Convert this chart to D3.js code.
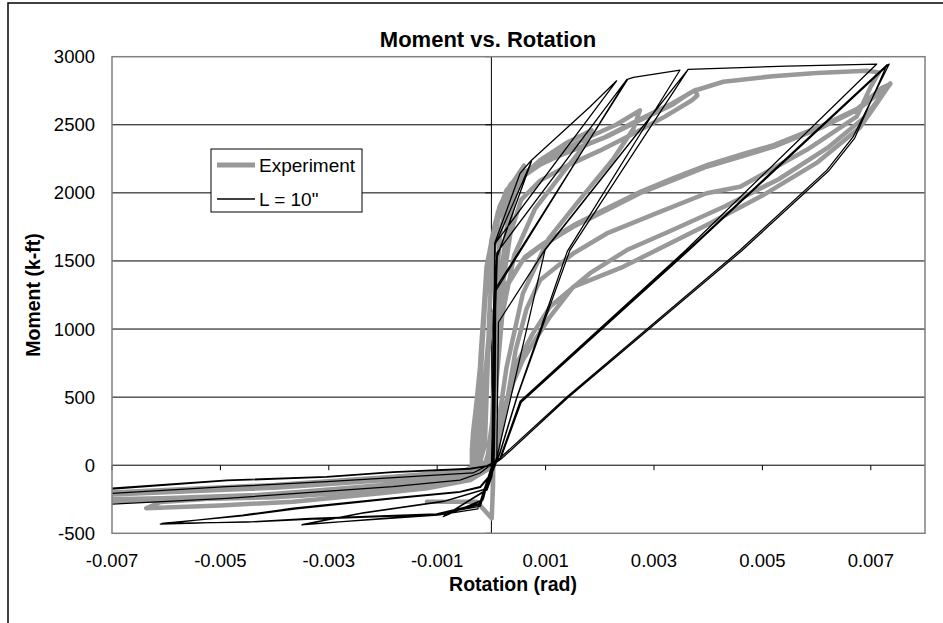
<!DOCTYPE html>
<html>
<head>
<meta charset="utf-8">
<script src="https://cdn.jsdelivr.net/npm/d3@7"></script>
<style>
  body { margin: 0; background: #fff; }
  svg { display: block; }
  text { font-family: "Liberation Sans", Arial, sans-serif; fill: #000; }
</style>
</head>
<body>
<svg id="chart" width="943" height="623"></svg>
<script>
// Axis ticks
const xTicks = [-0.007, -0.005, -0.003, -0.001, 0.001, 0.003, 0.005, 0.007];
const yTicks = [-500, 0, 500, 1000, 1500, 2000, 2500, 3000];
const seriesNames = ["Experiment", "L = 10\""];

// Experiment: rotation (rad) and moment (k-ft), in test order
const expRot = [
  -0.00119, -0.00027, 0.000006, 0.00003, 0.00004,
  0.00005, 0.00009, 0.00016, 0.00030, 0.00042,
  0.00030, 0.00015, 0.00006, 0.0, -0.00010, -0.00035, -0.00070,
  -0.00045, -0.00025, -0.00012, -0.00008, -0.00004, 0.00002, 0.00012, 0.00030, 0.00055,
  0.00042, 0.00025, 0.00012, 0.00004, -0.00008, -0.00040, -0.00090,
  -0.00060, -0.00036, -0.00036, -0.00034, -0.00027, -0.00021, -0.00015, -0.00009, -0.00003, 0.00007, 0.00025, 0.00060,
  0.00045, 0.00028, 0.00014, 0.00005, -0.00002, -0.00030, -0.00100, -0.00160,
  -0.00120, -0.00060, -0.00030,
  -0.00025, -0.00018, -0.00010, 0.0, 0.00015, 0.00035, 0.00050, 0.00038, 0.00022, 0.00010, 0.00002, -0.00015, -0.00050,
  -0.00030,
  -0.00026, -0.00020, -0.00012, -0.00002, 0.00012, 0.00040, 0.00090, 0.00140, 0.00185,
  0.00170, 0.00130, 0.00080, 0.00042, 0.00020, 0.00009, 0.00002, -0.00010, -0.00060, -0.00150, -0.00220,
  -0.00160, -0.00070, -0.00030,
  -0.00024, -0.00016, -0.00006, 0.00006, 0.00020, 0.00058, 0.00120, 0.00180, 0.00230, 0.00274,
  0.00262, 0.00225, 0.00165, 0.00105, 0.00058, 0.00028, 0.00011, 0.0, -0.00050, -0.00180, -0.00350,
  -0.00260, -0.00120, -0.00040, -0.00025,
  -0.00020, -0.00010, 0.00004, 0.00016, 0.00028, 0.00058, 0.00090, 0.00151, 0.00213, 0.00274, 0.00335, 0.00365, 0.00376, 0.00380, 0.00370,
  0.00320, 0.00260, 0.00200, 0.00140, 0.00090, 0.00055, 0.00035, 0.00020, 0.00010, 0.00003, -0.00010,
  -0.00039, -0.00119, -0.00200, -0.00366, -0.00500, -0.00637,
  -0.00610, -0.00500, -0.00350, -0.00200, -0.00100, -0.00045, -0.00025,
  -0.00022, -0.00012, 0.00002, 0.00014, 0.00035, 0.00070, 0.00140, 0.00210, 0.00274, 0.00335, 0.00374, 0.00428, 0.00519, 0.00600, 0.00692, 0.00715,
  0.00700, 0.00674, 0.00582, 0.00459, 0.00397, 0.00305, 0.00213, 0.00151, 0.00090, 0.00065, 0.00045, 0.00030, 0.00015, 0.00005,
  -0.00040, -0.00180, -0.00400, -0.00700, -0.00750,
  -0.00740, -0.00700, -0.00400, -0.00180, -0.00050, -0.00020,
  -0.00015, -0.00005, 0.00010, 0.00028, 0.00058, 0.00090, 0.00151, 0.00213, 0.00274, 0.00335, 0.00397, 0.00459, 0.00520, 0.00612, 0.00674, 0.00715, 0.00736,
  0.00710, 0.00680, 0.00600, 0.00500, 0.00400, 0.00305, 0.00243, 0.00151, 0.00108, 0.00077, 0.00058, 0.00040, 0.00028, 0.00016, 0.00010, 0.0,
  -0.00045, -0.00180, -0.00400, -0.00700, -0.00750,
  -0.00740, -0.00700, -0.00400, -0.00180, -0.00050, -0.00020,
  -0.00012, 0.0, 0.00014, 0.00032, 0.00062, 0.00095, 0.00155, 0.00215, 0.00276, 0.00337, 0.00399, 0.00460, 0.00522, 0.00614, 0.00676, 0.00720, 0.00736,
  0.00690, 0.00620, 0.00530, 0.00430, 0.00330, 0.00250, 0.00182, 0.00108, 0.00077, 0.00047, 0.00028, 0.00012, 0.00003,
  -0.00040, -0.00180, -0.00400, -0.00700, -0.00750,
  -0.00740, -0.00700, -0.00400, -0.00180, -0.00060, -0.00030
];
const expMom = [
  -268, -268, -390, -150, 200,
  700, 1300, 1700, 1950, 2050,
  1800, 1300, 700, 200, 0, -60, -100,
  -80, -30, 150, 600, 1100, 1500, 1800, 2000, 2130,
  1950, 1600, 1000, 400, 30, -70, -120,
  -95, -40, 111, 236, 479, 723, 1090, 1457, 1580, 1780, 1990, 2200,
  2020, 1700, 1150, 500, 60, -50, -110, -140,
  -110, -70, -10,
  300, 800, 1300, 1650, 1900, 2060, 2120, 1900, 1450, 800, 200, -40, -75,
  -20,
  300, 800, 1250, 1600, 1860, 2060, 2240, 2370, 2460,
  2340, 2140, 1880, 1540, 1100, 600, 120, -30, -90, -140, -175,
  -130, -75, -10,
  500, 1000, 1450, 1750, 1930, 2120, 2290, 2410, 2500, 2606,
  2470, 2250, 1960, 1660, 1260, 720, 260, 0, -90, -160, -225,
  -175, -105, -40, 50,
  700, 1300, 1700, 1898, 2021, 2144, 2216, 2314, 2412, 2533, 2650, 2730, 2754, 2715, 2680,
  2560, 2430, 2310, 2200, 2090, 1950, 1700, 1300, 800, 250, -40,
  -109, -170, -205, -268, -295, -316,
  -270, -240, -195, -145, -100, -55, 20,
  500, 1200, 1650, 1880, 2050, 2170, 2300, 2410, 2540, 2660, 2750, 2816, 2857, 2880, 2897, 2885,
  2780, 2560, 2316, 2045, 1997, 1851, 1702, 1555, 1360, 1150, 850, 500, 200, 0,
  -90, -160, -215, -255, -262,
  -215, -206, -155, -95, -45, 10,
  500, 950, 1200, 1311, 1507, 1604, 1751, 1874, 1997, 2094, 2192, 2265, 2338, 2485, 2606, 2730, 2804,
  2650, 2480, 2220, 1980, 1770, 1580, 1457, 1310, 1090, 897, 772, 604, 457, 236, 62, -20,
  -100, -170, -225, -250, -258,
  -210, -200, -145, -85, -40, 20,
  600, 1050, 1260, 1350, 1530, 1625, 1770, 1890, 2010, 2110, 2205, 2280, 2352, 2500, 2620, 2770, 2800,
  2560, 2330, 2100, 1900, 1720, 1580, 1410, 1163, 970, 750, 479, 230, 60,
  -105, -180, -235, -262, -270,
  -225, -215, -165, -105, -60, -20
];

// Model with L = 10": rotation (rad) and moment (k-ft)
const modRot = [
  0.0, 0.00004, 0.00006, 0.00053, 0.00074,
  0.00010, 0.00005, 0.00002, -0.00015, -0.00089, -0.00008, 0.00001, 0.00003,
  0.00005, 0.00007, 0.00074,
  0.00011, 0.00005, 0.00002, -0.00016, -0.00087, -0.00009, 0.00001, 0.00003,
  0.00006, 0.00007, 0.00053, 0.00074, 0.00182, 0.00231,
  0.00007, 0.00003, 0.00001, -0.00020, -0.00100, -0.00350,
  -0.00240, -0.00089, -0.00015, 0.0, 0.00005,
  0.00007, 0.00008, 0.00250,
  0.00010, 0.00004, 0.00001, -0.00025, -0.00099, -0.00348,
  -0.00235, -0.00085, -0.00012, 0.0, 0.00005,
  0.00007, 0.00008, 0.00252, 0.00262, 0.00348,
  0.00140, 0.00047, 0.00016, 0.0, -0.00020, -0.00101, -0.00334, -0.00440, -0.00611,
  -0.00459, -0.00366, -0.00181, -0.00058, -0.00021, 0.0, 0.00011,
  0.00099, 0.00363,
  0.00145, 0.00047, 0.00016, 0.0, -0.00022, -0.00100, -0.00330, -0.00450, -0.00608,
  -0.00460, -0.00360, -0.00180, -0.00060, -0.00020, 0.0, 0.00010,
  0.00013, 0.00100, 0.00363, 0.00545, 0.00711,
  0.00359, 0.00053, 0.00016, -0.00021, -0.00058, -0.00182, -0.00488, -0.00700, -0.00760,
  -0.00730, -0.00700, -0.00488, -0.00304, -0.00182, -0.00039, 0.0,
  0.00016, 0.00139, 0.00459, 0.00619, 0.00667, 0.00734,
  0.00363, 0.00055, 0.00017, -0.00034, -0.00304, -0.00488, -0.00700, -0.00760,
  -0.00730, -0.00700, -0.00488, -0.00304, -0.00182, -0.00040, 0.0,
  0.00018, 0.00141, 0.00462, 0.00622, 0.00670, 0.00730,
  0.00361, 0.00054, 0.00016, 0.00005
];
const modMom = [
  0, 600, 1630, 2144, 2240,
  1520, 900, 0, -250, -378, -182, -84, 0,
  700, 1620, 2232,
  1540, 820, 0, -258, -372, -178, -80, 0,
  900, 1640, 2144, 2240, 2632, 2823,
  1630, 1000, 0, -300, -360, -439,
  -353, -268, -182, -90, 0,
  700, 1280, 2833,
  1560, 900, 0, -320, -366, -435,
  -348, -262, -175, -85, 0,
  600, 1300, 2836, 2848, 2902,
  1570, 502, 97, -60, -280, -358, -390, -415, -432,
  -366, -316, -240, -194, -158, -60, 73,
  1580, 2907,
  1580, 495, 90, -70, -290, -362, -395, -418, -428,
  -372, -320, -246, -199, -162, -65, 60,
  1050, 1590, 2907, 2931, 2946,
  1580, 470, 53, -57, -109, -158, -243, -285, -300,
  -180, -169, -109, -84, -48, -23, 0,
  53, 501, 1580, 2167, 2409, 2946,
  1573, 462, 48, -57, -121, -158, -206, -215,
  -178, -175, -114, -88, -52, -28, -3,
  45, 495, 1575, 2160, 2400, 2942,
  1576, 466, 50, 0
];

const expData = expRot.map((r, i) => ({ r, m: expMom[i] }));
const modData = modRot.map((r, i) => ({ r, m: modMom[i] }));

const svg = d3.select("#chart");
const W = 943, H = 623;
const plot = { left: 112, right: 925, top: 56.7, bottom: 533.3 };

// Chart area frame
svg.append("rect").attr("x", 0).attr("y", 0).attr("width", W).attr("height", H).attr("fill", "#fff");
svg.append("path")
  .attr("d", `M8,${H} L8,3 L${W},3`)
  .attr("fill", "none").attr("stroke", "#000").attr("stroke-width", 1.5);

const x = d3.scaleLinear().domain([-0.007, 0.008]).range([plot.left, plot.right]);
const y = d3.scaleLinear().domain([-500, 3000]).range([plot.bottom, plot.top]);

// Horizontal gridlines
svg.append("g")
  .selectAll("line")
  .data(yTicks.filter(v => v > -500 && v < 3000 && v !== 0))
  .join("line")
  .attr("x1", plot.left).attr("x2", plot.right)
  .attr("y1", d => y(d)).attr("y2", d => y(d))
  .attr("stroke", "#000").attr("stroke-width", 1);

// Zero axes
svg.append("line")
  .attr("x1", plot.left).attr("x2", plot.right)
  .attr("y1", y(0)).attr("y2", y(0))
  .attr("stroke", "#000").attr("stroke-width", 1);
svg.append("line")
  .attr("x1", x(0)).attr("x2", x(0))
  .attr("y1", plot.top).attr("y2", plot.bottom)
  .attr("stroke", "#000").attr("stroke-width", 1);

// X tick marks on the zero line
svg.append("g")
  .selectAll("line")
  .data(xTicks)
  .join("line")
  .attr("x1", d => x(d)).attr("x2", d => x(d))
  .attr("y1", y(0)).attr("y2", y(0) + 5)
  .attr("stroke", "#000").attr("stroke-width", 1);

// Y tick marks on the vertical zero line
svg.append("g")
  .selectAll("line")
  .data(yTicks)
  .join("line")
  .attr("x1", x(0) - 6).attr("x2", x(0))
  .attr("y1", d => y(d)).attr("y2", d => y(d))
  .attr("stroke", "#000").attr("stroke-width", 1);

// Series, clipped to the plot area
svg.append("clipPath").attr("id", "plotClip")
  .append("rect")
  .attr("x", plot.left).attr("y", plot.top)
  .attr("width", plot.right - plot.left).attr("height", plot.bottom - plot.top);

const line = d3.line().x(d => x(d.r)).y(d => y(d.m));
const series = svg.append("g").attr("clip-path", "url(#plotClip)");
series.append("path")
  .datum(expData)
  .attr("d", line)
  .attr("fill", "none").attr("stroke", "#999999").attr("stroke-width", 4.5)
  .attr("stroke-linejoin", "round").attr("stroke-linecap", "round");
series.append("path")
  .datum(modData)
  .attr("d", line)
  .attr("fill", "none").attr("stroke", "#000").attr("stroke-width", 1.25)
  .attr("stroke-linejoin", "round");

// Plot border
svg.append("rect")
  .attr("x", plot.left).attr("y", plot.top)
  .attr("width", plot.right - plot.left).attr("height", plot.bottom - plot.top)
  .attr("fill", "none").attr("stroke", "#808080").attr("stroke-width", 1.5);

// Tick labels
svg.append("g")
  .selectAll("text")
  .data(yTicks)
  .join("text")
  .attr("x", 95).attr("y", d => y(d))
  .attr("text-anchor", "end").attr("dominant-baseline", "central")
  .style("font-size", "18.5px")
  .text(d => d);
svg.append("g")
  .selectAll("text")
  .data(xTicks)
  .join("text")
  .attr("x", d => x(d)).attr("y", 567)
  .attr("text-anchor", "middle")
  .style("font-size", "18.5px")
  .text(d => d3.format(".3f")(d).replace("−", "-"));

// Titles
svg.append("text")
  .attr("x", 488).attr("y", 47)
  .attr("text-anchor", "middle")
  .style("font-size", "22px").style("font-weight", "bold")
  .text("Moment vs. Rotation");
svg.append("text")
  .attr("x", 513).attr("y", 591)
  .attr("text-anchor", "middle")
  .style("font-size", "19.5px").style("font-weight", "bold")
  .text("Rotation (rad)");
svg.append("text")
  .attr("transform", `translate(40,${(plot.top + plot.bottom) / 2}) rotate(-90)`)
  .attr("text-anchor", "middle")
  .style("font-size", "19.5px").style("font-weight", "bold")
  .text("Moment (k-ft)");

// Legend
const lg = svg.append("g");
lg.append("rect")
  .attr("x", 211).attr("y", 149).attr("width", 151).attr("height", 63)
  .attr("fill", "#fff").attr("stroke", "#000").attr("stroke-width", 1);
const legendItems = [
  { name: seriesNames[0], color: "#999999", width: 5, yy: 165 },
  { name: seriesNames[1], color: "#000", width: 1.3, yy: 199 }
];
legendItems.forEach(it => {
  lg.append("line")
    .attr("x1", 217).attr("x2", 255).attr("y1", it.yy).attr("y2", it.yy)
    .attr("stroke", it.color).attr("stroke-width", it.width);
  lg.append("text")
    .attr("x", 259).attr("y", it.yy)
    .attr("dominant-baseline", "central")
    .style("font-size", "19px")
    .text(it.name);
});
</script>
</body>
</html>
